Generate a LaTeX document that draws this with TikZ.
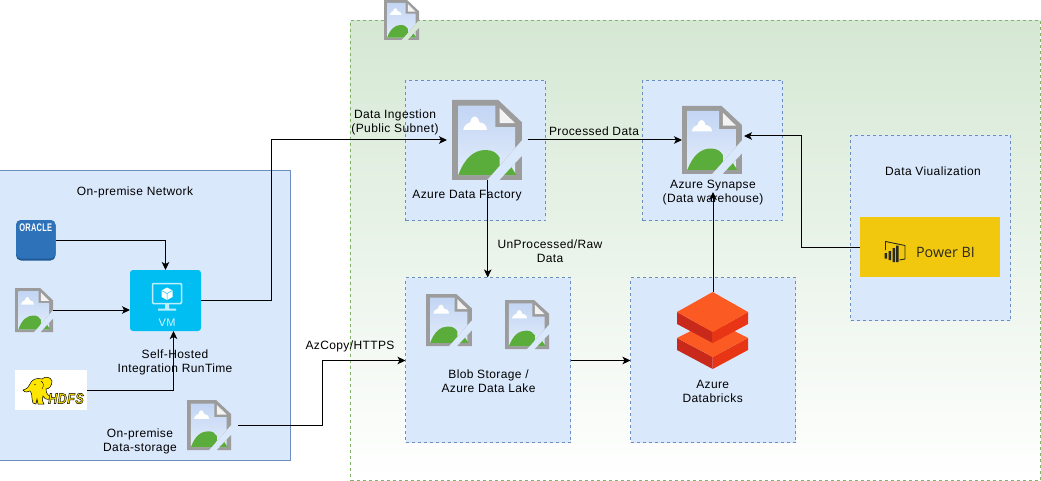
\documentclass[tikz,border=0pt]{standalone}
\usepackage{fontspec}
\setmainfont[LetterSpace=3.2]{Liberation Sans}
\newfontfamily\pbifont{Open Sans}
\usetikzlibrary{arrows.meta,calc}
\definecolor{bluefill}{HTML}{DAE8FC}
\definecolor{bluestroke}{HTML}{6C8EBF}
\definecolor{greenfill}{HTML}{D5E8D4}
\definecolor{greenstroke}{HTML}{82B366}
\definecolor{icongray}{HTML}{9C9C9C}
\definecolor{iconsky}{HTML}{C2D5F3}
\definecolor{iconskyb}{HTML}{E2ECFB}
\definecolor{iconhill}{HTML}{5AAD3A}
\definecolor{vmblue}{HTML}{00BEF2}
\definecolor{vmpale}{HTML}{BDEFFF}
\definecolor{orablue}{HTML}{2E72B9}
\definecolor{oradark}{HTML}{1F5A96}
\definecolor{pbiyellow}{HTML}{F2C80F}
\definecolor{pbidark}{HTML}{2B2A1E}
\definecolor{dbtop}{HTML}{FB5A22}
\definecolor{dbleft}{HTML}{C9291A}
\definecolor{dbright}{HTML}{E83515}
\definecolor{hdfsyellow}{HTML}{FFE600}
\tikzset{
  conn/.style={draw=black,line width=1pt,-{Stealth[length=8pt,width=7.5pt,inset=2pt]}},
  plainbox/.style={inner sep=0pt,outer sep=0pt},
  dashbox/.style={plainbox,draw=bluestroke,fill=bluefill,line width=.8pt,dash pattern=on 3pt off 3pt},
  lbl/.style={inner sep=0pt,outer sep=0pt,align=center,font=\fontsize{12}{14}\selectfont,text=black}
}
% box: name, x0, y0, x1, y1, style
\newcommand\boxat[6]{%
  \pgfmathsetmacro\bw{#4-#2}\pgfmathsetmacro\bh{#5-#3}%
  \node[#6,minimum width=\bw pt,minimum height=\bh pt] (#1) at ({(#2+#4)/2},{(#3+#5)/2}) {};}
\newcommand\iconbody{%
  \fill[icongray] (0,0) -- (.66,0) -- (1,.28) -- (1,1) -- (0,1) -- cycle;
  \shade[top color=iconsky,bottom color=iconskyb] (.09,.07) -- (.62,.07) -- (.62,.34) -- (.90,.34) -- (.90,.94) -- (.09,.94) -- cycle;
  \fill[white!88!icongray] (.68,.10) -- (.90,.29) -- (.68,.29) -- cycle;
  \fill[white] (.16,.375) .. controls (.18,.30) and (.23,.29) .. (.26,.28) .. controls (.28,.18) and (.37,.18) .. (.39,.28) .. controls (.44,.28) and (.50,.31) .. (.50,.375) -- cycle;
  \fill[iconhill] (.09,.94) .. controls (.18,.72) and (.32,.625) .. (.48,.625) .. controls (.58,.625) and (.64,.66) .. (.68,.72) -- (.68,.94) -- cycle;
  \fill[iconhill] (.68,.94) -- (.82,.80) -- (.92,.94) -- cycle;}
% broken image icon: name, x0, y0, x1, y1
\newcommand\bicon[5]{%
  \boxat{#1}{#2}{#3}{#4}{#5}{plainbox}%
  \pgfmathsetmacro\iw{#4-#2}\pgfmathsetmacro\ih{#5-#3}%
  \begin{scope}[shift={(#2,#3)},x=\iw pt,y=-\ih pt]
    \begin{scope}\clip (0,0) -- (1,0) -- (1,.50) -- (.50,1) -- (0,1) -- cycle; \iconbody\end{scope}
    \begin{scope}\clip (1,.70) -- (1,1) -- (.68,1) -- cycle; \iconbody\end{scope}
  \end{scope}}
\begin{document}
\begin{tikzpicture}[x=1pt,y=-1pt]
\useasboundingbox (0,0) rectangle (1041,481);
% containers
\boxat{cloud}{350.5}{20.5}{1040}{480.5}{plainbox,top color=greenfill,bottom color=white,draw=greenstroke,line width=.8pt,dash pattern=on 3pt off 3pt}
\boxat{onprem}{-1}{170.5}{290.5}{460.5}{plainbox,draw=bluestroke,fill=bluefill,line width=1pt}
\boxat{adfbox}{405.5}{80.5}{545.5}{220.5}{dashbox}
\boxat{synbox}{642.5}{80.5}{782.5}{220.5}{dashbox}
\boxat{blobbox}{405.5}{277.5}{570.5}{442.5}{dashbox}
\boxat{dbbox}{630.5}{277.5}{795.5}{442.5}{dashbox}
\boxat{vizbox}{850.5}{135.5}{1010.5}{320.5}{dashbox}
% broken images
\bicon{topicon}{384}{0}{419}{40}
\bicon{adf}{452}{100}{522}{180}
\bicon{syn}{682}{106}{742}{174}
\bicon{blobone}{426}{294}{472}{346}
\bicon{blobtwo}{505}{300}{549}{349}
\bicon{srcicon}{15}{288}{53}{332}
\bicon{storage}{187}{400}{231}{450}
% Oracle
\boxat{oracle}{16}{220}{55.5}{260.5}{plainbox,fill=oradark,rounded corners=5pt}
\fill[orablue,rounded corners=5pt] (16,220) rectangle (55.5,258.5);
\node[plainbox,text=white,font=\bfseries\fontsize{11}{11}\selectfont,xscale=.68] (oratext) at (35.8,228) {ORACLE};
% HDFS
\boxat{hdfs}{15}{370}{87}{410}{plainbox,fill=white}
\draw[black,line width=.5pt,fill=hdfsyellow] (33,403) .. controls (31,398) and (33,394) .. (30,391) .. controls (28,392) and (25,393) .. (23,390) .. controls (27,389) and (29,387) .. (30,384) .. controls (31,380) and (37,377) .. (42,379) .. controls (45,376) and (51,377) .. (52,381) .. controls (52,386) and (49,389) .. (46,389) .. controls (46,393) and (48,397) .. (52,396) .. controls (51,400) and (45,401) .. (43,396) .. controls (42,398) and (42,401) .. (44,404) -- (38,404) -- (37,399) -- (36,404) -- cycle;
\draw[black,line width=.4pt] (41,381) .. controls (44,383) and (44,386) .. (42,389) (34,385) -- (36,384);
\node[plainbox,font=\bfseries\itshape\fontsize{15}{15}\selectfont,xscale=.84] (hdfstext) at (66,398.5) {\special{pdf:code 2 Tr 0.5 w 0 0 0 RG 1 0.9 0 rg}HDFS\special{pdf:code 0 Tr}};
% VM
\boxat{vm}{130}{270}{201}{331}{plainbox,fill=vmblue,rounded corners=3pt}
\draw[vmpale,line width=1.5pt,rounded corners=1pt] (152.5,283.5) rectangle (181.5,303.5);
\fill[vmpale] (165,304) rectangle (169,309) (158,308.5) rectangle (176,310.5);
\fill[white] (167,287.5) -- (172.5,290.5) -- (172.5,297) -- (167,300) -- (161.5,297) -- (161.5,290.5) -- cycle;
\draw[vmblue,line width=.5pt] (161.5,290.5) -- (167,293.5) -- (172.5,290.5) (167,293.5) -- (167,300);
\node[plainbox,text=vmpale!60!white,font=\fontsize{11}{11}\selectfont] (vmtext) at (167,323) {VM};
% Power BI
\boxat{pbi}{860}{217}{1000}{277}{plainbox,fill=pbiyellow}
\draw[pbidark,line width=.9pt] (885.5,250) -- (885.5,241.5) -- (905,245.5) -- (905,259) -- (899.5,260);
\fill[pbidark] (884.5,253) rectangle (887,258.5) (888.5,251) rectangle (891,260) (892.5,248) rectangle (895,262) (896,245.5) rectangle (898.5,262);
\node[plainbox,text=pbidark,font=\pbifont\fontsize{14.3}{14}\selectfont] (pbitext) at (945.5,252) {Power BI};
% Databricks
\coordinate (dbtopc) at (713,292);
\fill[dbleft] (677,338) -- (677,350) -- (712.7,369) -- (712.7,357) -- cycle;
\fill[dbright] (748,338) -- (748,350) -- (712.7,369) -- (712.7,357) -- cycle;
\fill[dbtop] (677,338) -- (712.7,320) -- (748,338) -- (712.7,357) -- cycle;
\fill[dbleft] (677,312) -- (677,324) -- (712.7,343) -- (712.7,332) -- cycle;
\fill[dbright] (748,312) -- (748,324) -- (712.7,343) -- (712.7,332) -- cycle;
\fill[dbtop] (712.7,292) -- (748,312) -- (712.7,332) -- (677,312) -- cycle;
% connector bends
\coordinate (b1) at (271.5,300.5);
\coordinate (b2) at (271.5,140);
\coordinate (b3) at (165.5,240.5);
\coordinate (b4) at (173.5,390.5);
\coordinate (b5) at (238,425.5);
\coordinate (b6) at (322.5,425.5);
\coordinate (b7) at (322.5,360.5);
\coordinate (b8) at (801.7,247.7);
\coordinate (b9) at (801.7,136);
\coordinate (e1) at (744,136);
\coordinate (e2) at (713,192);
\coordinate (s1) at (487.7,180);
% connectors
\draw[conn,shorten >=5pt] (vm.east) -- (b1) -- (b2) -- (adf.west);
\draw[conn] (oracle.east |- b3) -- (b3) -- (b3 |- vm.north);
\draw[conn] (srcicon.east) -- (srcicon.east -| vm.west);
\draw[conn] (hdfs.east |- b4) -- (b4) -- (b4 |- vm.south);
\draw[conn] (b5) -- (b6) -- (b7) -- (b7 -| blobbox.west);
\draw[conn,shorten <=5.5pt] (adf.east) -- (syn.west |- adf.east);
\draw[conn] (s1) -- (s1 |- blobbox.north);
\draw[conn] (blobbox.east |- b7) -- (dbbox.west |- b7);
\draw[conn] (dbtopc) -- (e2);
\draw[conn] (pbi.west |- b8) -- (b8) -- (b9) -- (e1);
% labels
\node[lbl] (l1) at (135,192) {On-premise Network};
\node[lbl] (l2) at (175,362) {Self-Hosted\\Integration RunTime};
\node[lbl] (l3) at (140,441.5) {On-premise\\Data-storage};
\node[lbl] (l4) at (350,346) {AzCopy/HTTPS};
\node[lbl] (l5) at (395,122) {Data Ingestion\\(Public Subnet)};
\node[lbl] (l6) at (594,131.5) {Processed Data};
\node[lbl] (l7) at (467,195.5) {Azure Data Factory};
\node[lbl] (l8) at (713,192.5) {Azure Synapse\\(Data warehouse)};
\node[lbl] (l9) at (550,251) {UnProcessed/Raw\\Data};
\node[lbl] (l10) at (488.5,381) {Blob Storage /\\Azure Data Lake};
\node[lbl] (l11) at (712.7,391) {Azure\\Databricks};
\node[lbl] (l12) at (933,171) {Data Viualization};
\end{tikzpicture}
\end{document}
